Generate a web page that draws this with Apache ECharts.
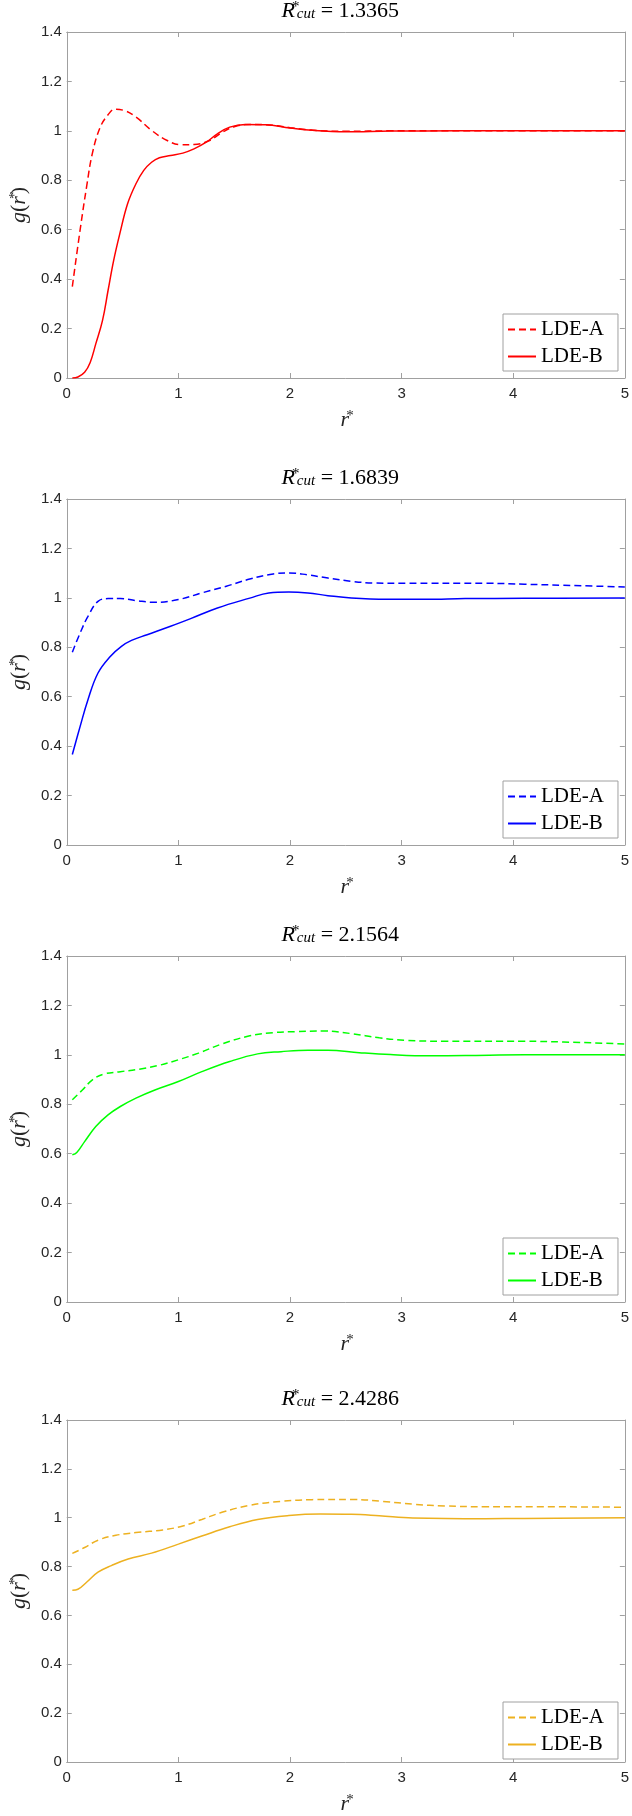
<!DOCTYPE html>
<html>
<head>
<meta charset="utf-8">
<script src="https://cdn.jsdelivr.net/npm/echarts@6/dist/echarts.min.js"></script>
<style>
  html, body { margin: 0; padding: 0; background: #fff; }
  #chart { width: 632px; height: 1816px; }
</style>
</head>
<body>
<div id="chart"></div>
<script>
const cutoffs = ["1.3365", "1.6839", "2.1564", "2.4286"]
const colors = ["#ff0000", "#0000ff", "#00ff00", "#edb120"]

// [r*, g(r*)]
const ldeA1 = [[0.05,0.37],[0.12,0.6],[0.18,0.78],[0.23,0.91],[0.3,1.015],[0.37,1.065],[0.43,1.087],[0.51,1.083],[0.62,1.056],[0.76,1.002],[0.9,0.961],[1.02,0.944],[1.14,0.945],[1.28,0.961],[1.39,0.993],[1.5,1.017],[1.64,1.026],[1.78,1.025],[2.0,1.013],[2.2,1.003],[2.5,0.998],[2.9,1.0],[3.5,1.0],[5,1.0]]
const ldeB1 = [[0.05,0],[0.1,0.004],[0.16,0.023],[0.21,0.063],[0.26,0.138],[0.32,0.232],[0.37,0.354],[0.42,0.475],[0.475,0.583],[0.545,0.705],[0.62,0.786],[0.69,0.84],[0.76,0.873],[0.83,0.891],[0.93,0.9],[1.04,0.91],[1.14,0.927],[1.25,0.954],[1.35,0.988],[1.46,1.015],[1.6,1.026],[1.78,1.025],[2.0,1.012],[2.2,1.002],[2.5,0.996],[2.9,0.999],[3.5,1.0],[5,1.0]]
const ldeA2 = [[0.05,0.78],[0.12,0.858],[0.19,0.925],[0.28,0.986],[0.37,0.997],[0.48,0.997],[0.62,0.989],[0.79,0.982],[1.0,0.993],[1.21,1.02],[1.43,1.047],[1.64,1.076],[1.85,1.097],[1.99,1.101],[2.16,1.093],[2.34,1.08],[2.55,1.067],[2.76,1.06],[3.04,1.059],[3.75,1.059],[4.1,1.055],[4.45,1.051],[5,1.044]]
const ldeB2 = [[0.05,0.366],[0.12,0.48],[0.19,0.588],[0.28,0.696],[0.39,0.763],[0.49,0.804],[0.58,0.828],[0.72,0.851],[0.93,0.885],[1.11,0.916],[1.35,0.959],[1.64,0.999],[1.81,1.02],[1.99,1.024],[2.16,1.02],[2.34,1.009],[2.55,0.999],[2.87,0.994],[3.22,0.994],[3.57,0.997],[4.1,0.998],[5,0.999]]
const ldeA3 = [[0.05,0.818],[0.14,0.858],[0.23,0.899],[0.33,0.922],[0.48,0.932],[0.65,0.942],[0.83,0.958],[1.0,0.98],[1.18,1.007],[1.39,1.044],[1.64,1.077],[1.85,1.09],[2.06,1.094],[2.3,1.097],[2.55,1.086],[2.8,1.069],[3.04,1.059],[3.39,1.055],[4.1,1.055],[4.45,1.052],[5,1.044]]
const ldeB3 = [[0.05,0.596],[0.09,0.605],[0.16,0.649],[0.26,0.71],[0.37,0.757],[0.48,0.791],[0.62,0.825],[0.79,0.858],[1.0,0.892],[1.21,0.932],[1.46,0.973],[1.71,1.004],[1.92,1.013],[2.16,1.019],[2.34,1.019],[2.62,1.009],[2.9,1.001],[3.25,0.996],[3.57,0.997],[4.1,1.0],[5,1.0]]
const ldeA4 = [[0.05,0.854],[0.16,0.878],[0.28,0.908],[0.44,0.928],[0.62,0.939],[0.86,0.95],[1.04,0.966],[1.21,0.993],[1.39,1.022],[1.64,1.051],[1.92,1.067],[2.2,1.074],[2.55,1.075],[2.83,1.067],[3.11,1.055],[3.39,1.048],[3.75,1.045],[4.1,1.045],[5,1.043]]
const ldeB4 = [[0.05,0.703],[0.1,0.707],[0.18,0.737],[0.28,0.777],[0.4,0.804],[0.55,0.831],[0.76,0.855],[1.0,0.892],[1.21,0.925],[1.46,0.963],[1.71,0.993],[1.99,1.009],[2.27,1.015],[2.55,1.014],[2.8,1.008],[3.1,0.999],[3.75,0.996],[4.1,0.997],[5,1.0]]

const dataA = [ldeA1, ldeA2, ldeA3, ldeA4]
const dataB = [ldeB1, ldeB2, ldeB3, ldeB4]
const seriesNames = ["LDE-A", "LDE-B"]

const gridTops = [32, 499, 956, 1420]
const plotLeft = 54.5
const plotWidth = 571.5
const plotHeight = 346
const boxColor = "#a0a0a0"
const tickColor = "#262626"
const serif = "Liberation Serif"
const sans = "Liberation Sans"

const sym = {
  n: { fontFamily: serif, fontSize: 22, color: "#262626" },
  i: { fontFamily: serif, fontSize: 22, fontStyle: "italic", color: "#262626" },
  sup: { fontFamily: serif, fontSize: 15, color: "#262626", verticalAlign: "top", width: 2 },
  sub: { fontFamily: serif, fontSize: 15, fontStyle: "italic", color: "#262626", verticalAlign: "bottom" }
}

const chart = echarts.init(document.getElementById("chart"))

const grid = [], xAxis = [], yAxis = [], series = [], legend = [], graphic = []

gridTops.forEach((top, k) => {
  grid.push({ left: plotLeft, top: top, width: plotWidth, height: plotHeight })
  const line = { show: true, onZero: false, lineStyle: { color: boxColor, width: 1 } }
  const tick = { show: true, inside: true, length: 5, lineStyle: { color: boxColor } }
  xAxis.push({
    type: "value", gridIndex: k, min: 0, max: 5, interval: 1, position: "bottom",
    axisLine: line, axisTick: tick, splitLine: { show: false },
    axisLabel: { color: tickColor, fontFamily: sans, fontSize: 15, margin: 8 },
    name: "{i|r}{sup|*}", nameLocation: "middle", nameGap: 31,
    nameTextStyle: { rich: sym }
  })
  xAxis.push({
    type: "value", gridIndex: k, min: 0, max: 5, interval: 1, position: "top",
    axisLine: line, axisTick: tick, splitLine: { show: false }, axisLabel: { show: false }
  })
  yAxis.push({
    type: "value", gridIndex: k, min: 0, max: 1.4, interval: 0.2, position: "left",
    axisLine: line, axisTick: tick, splitLine: { show: false },
    axisLabel: { color: tickColor, fontFamily: sans, fontSize: 15, margin: 5 },
    name: "{i|g}{n|(}{i|r}{sup|*}{n|)}", nameLocation: "middle", nameGap: 36, nameRotate: 90,
    nameTextStyle: { rich: sym }
  })
  yAxis.push({
    type: "value", gridIndex: k, min: 0, max: 1.4, interval: 0.2, position: "right",
    axisLine: line, axisTick: tick, splitLine: { show: false }, axisLabel: { show: false }
  })

  const nameA = seriesNames[0] + "|" + k
  const nameB = seriesNames[1] + "|" + k
  series.push({
    name: nameA, type: "line", xAxisIndex: 2 * k, yAxisIndex: 2 * k,
    data: dataA[k], symbol: "none", smooth: 0.4,
    lineStyle: { color: colors[k], width: 1.5, type: [7, 4] }, itemStyle: { color: colors[k] }
  })
  series.push({
    name: nameB, type: "line", xAxisIndex: 2 * k, yAxisIndex: 2 * k,
    data: dataB[k], symbol: "none", smooth: 0.4,
    lineStyle: { color: colors[k], width: 1.5 }, itemStyle: { color: colors[k] }
  })

  legend.push({
    data: [nameA, nameB], orient: "vertical", left: 503, top: top + plotHeight - 64,
    padding: [5, 14, 4, 4], itemWidth: 28, itemHeight: 14, itemGap: 6,
    backgroundColor: "#fff", borderColor: boxColor, borderWidth: 1, selectedMode: false,
    itemStyle: { opacity: 0 },
    formatter: (name) => name.split("|")[0],
    textStyle: { fontFamily: serif, fontSize: 21, color: "#000" }
  })

  graphic.push({
    type: "text", x: plotLeft + plotWidth / 2, y: top - 21,
    style: {
      text: "{i|R}{sup|*}{sub|cut}{n| = " + cutoffs[k] + "}",
      rich: sym, align: "center", verticalAlign: "middle"
    }
  })
})

chart.setOption({
  animation: false,
  grid: grid,
  xAxis: xAxis,
  yAxis: yAxis,
  legend: legend,
  graphic: graphic,
  series: series
})
</script>
</body>
</html>
